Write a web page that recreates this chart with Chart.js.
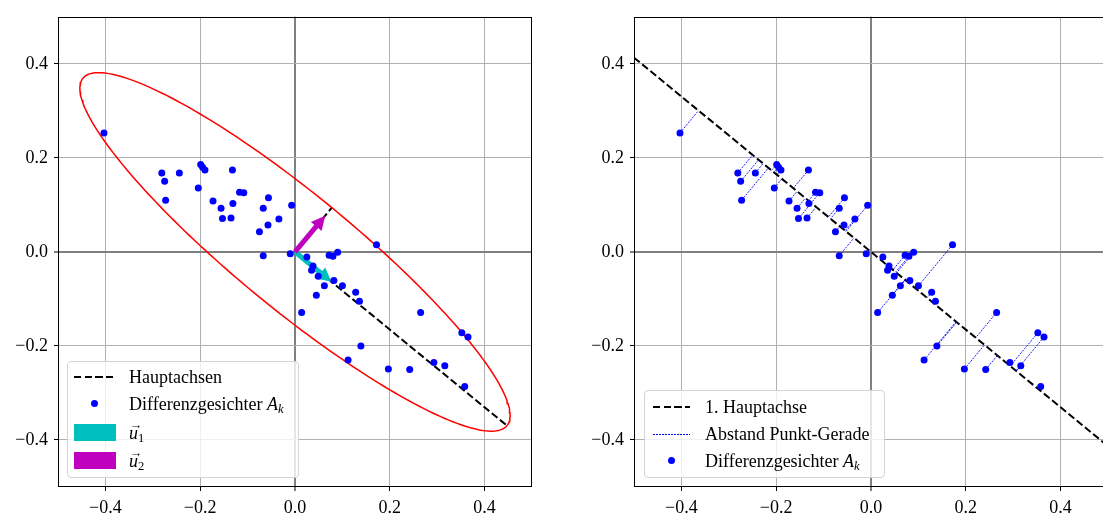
<!DOCTYPE html>
<html>
<head>
<meta charset="utf-8">
<script src="https://cdn.jsdelivr.net/npm/chart.js@4.4.0/dist/chart.umd.min.js"></script>
<style>
html, body { margin: 0; padding: 0; background: #fff; }
body { width: 1103px; height: 516px; overflow: hidden; position: relative; font-family: "Liberation Serif", serif; }
.panel { position: absolute; top: 0; width: 560px; height: 516px; }
.legend { position: absolute; background: rgba(255,255,255,0.8); border: 1px solid #d4d4d4; border-radius: 4px; box-sizing: border-box; font-size: 18px; color: #000; }
.row { position: absolute; left: 0; right: 0; height: 20px; line-height: 20px; white-space: nowrap; }
.row .txt { position: absolute; top: 0; }
.handle { position: absolute; }
.dash { height: 2px; top: 9px; background: repeating-linear-gradient(to right, #000 0 7.4px, transparent 7.4px 10.6px); }
.dots { height: 1px; top: 10px; background: repeating-linear-gradient(to right, #0000ff 0 1.8px, transparent 1.8px 3px); }
.dot { width: 7px; height: 7px; top: 6px; border-radius: 50%; background: #0000ff; }
.vec { position: relative; font-style: italic; }
.vec::before { content: "\2192"; position: absolute; left: 0.05em; top: -0.62em; font-size: 0.7em; font-style: normal; }
sub { font-size: 0.7em; vertical-align: -0.25em; line-height: 0; }
</style>
</head>
<body>
<div class="panel" style="left:0"><canvas id="left" width="560" height="516"></canvas></div>
<div class="panel" style="left:576px"><canvas id="right" width="560" height="516"></canvas></div>

<div class="legend" style="left:67px; top:361px; width:232px; height:117px;">
  <div class="row" style="top:5px"><div class="handle dash" style="left:6px; width:40px"></div><span class="txt" style="left:61px">Hauptachsen</span></div>
  <div class="row" style="top:32px"><div class="handle dot" style="left:23px"></div><span class="txt" style="left:61px">Differenzgesichter <i>A</i><sub><i>k</i></sub></span></div>
  <div class="row" style="top:61px"><div class="handle" style="left:6px; width:42px; top:1px; height:17px; background:#00bfbf"></div><span class="txt" style="left:61px"><span class="vec">u</span><sub>1</sub></span></div>
  <div class="row" style="top:89px"><div class="handle" style="left:6px; width:42px; top:1px; height:17px; background:#bf00bf"></div><span class="txt" style="left:61px"><span class="vec">u</span><sub>2</sub></span></div>
</div>

<div class="legend" style="left:644px; top:390px; width:241px; height:88px;">
  <div class="row" style="top:6px"><div class="handle dash" style="left:8px; width:37px"></div><span class="txt" style="left:60px">1. Hauptachse</span></div>
  <div class="row" style="top:33px"><div class="handle dots" style="left:8px; width:37px"></div><span class="txt" style="left:60px">Abstand Punkt-Gerade</span></div>
  <div class="row" style="top:60px"><div class="handle dot" style="left:23px"></div><span class="txt" style="left:60px">Differenzgesichter <i>A</i><sub><i>k</i></sub></span></div>
</div>

<script>
const tickValues = [-0.4, -0.2, 0, 0.2, 0.4];

const pointsX = [-0.403, -0.281, -0.244, -0.275, -0.273, -0.199, -0.195, -0.190, -0.132, -0.204,
                 -0.117, -0.108, -0.173, -0.131, -0.156, -0.153, -0.135, -0.056, -0.067, -0.007,
                 -0.034, -0.057, -0.075, -0.067, -0.010, 0.025, 0.072, 0.080, 0.090, 0.172,
                 0.038, 0.035, 0.049, 0.082, 0.062, 0.100, 0.045, 0.128, 0.136, 0.014,
                 0.265, 0.352, 0.365, 0.139, 0.112, 0.197, 0.242, 0.293, 0.316, 0.358];
const pointsY = [0.253, 0.168, 0.168, 0.150, 0.110, 0.186, 0.180, 0.174, 0.174, 0.136,
                 0.127, 0.126, 0.108, 0.103, 0.093, 0.071, 0.072, 0.115, 0.093, 0.099,
                 0.070, 0.057, 0.043, -0.008, -0.004, -0.011, -0.007, -0.009, -0.001, 0.015,
                 -0.030, -0.039, -0.052, -0.061, -0.072, -0.072, -0.092, -0.086, -0.105, -0.129,
                 -0.129, -0.172, -0.181, -0.200, -0.230, -0.249, -0.250, -0.235, -0.242, -0.286];

// principal directions, ellipse half axes and arrow length
const u1 = [0.771, -0.637];
const u2 = [0.637, 0.771];
const semiAxes = [0.58, 0.122];
const arrowLength = 0.1;

const points = pointsX.map((x, i) => ({ x: x, y: pointsY[i] }));

function axis(which) {
    return {
        type: 'linear',
        min: -0.5,
        max: 0.5,
        position: which === 'x' ? 'bottom' : 'left',
        afterBuildTicks: s => { s.ticks = tickValues.map(v => ({ value: v })); },
        afterFit: s => { if (which === 'x') s.height = 29; else s.width = 58; },
        border: { display: false },
        grid: {
            color: c => (c.tick && c.tick.value === 0) ? '#808080' : '#b0b0b0',
            lineWidth: c => (c.tick && c.tick.value === 0) ? 2 : 1,
            tickColor: '#000',
            tickWidth: 1,
            tickLength: 4,
            drawTicks: true
        },
        ticks: {
            color: '#000',
            padding: which === 'x' ? 6 : 6,
            autoSkip: false,
            maxRotation: 0,
            font: { family: 'Liberation Serif', size: 18 },
            callback: v => (v < 0 ? '\u2212' : '') + Math.abs(v).toFixed(1)
        }
    };
}

function baseOptions() {
    return {
        responsive: false,
        animation: false,
        events: [],
        layout: { padding: { top: 14, right: 28, left: 0, bottom: 0 } },
        plugins: { legend: { display: false }, tooltip: { enabled: false } },
        scales: { x: axis('x'), y: axis('y') }
    };
}

const framePlugin = {
    id: 'frame',
    afterDatasetsDraw(chart) {
        const a = chart.chartArea;
        const ctx = chart.ctx;
        ctx.save();
        ctx.strokeStyle = '#000';
        ctx.lineWidth = 1;
        ctx.strokeRect(Math.round(a.left) + 0.5, Math.round(a.top) + 0.5,
            Math.round(a.right - a.left) - 1, Math.round(a.bottom - a.top) - 1);
        ctx.restore();
    }
};

function drawArrow(chart, vec, color) {
    const xs = chart.scales.x, ys = chart.scales.y, ctx = chart.ctx;
    const x0 = xs.getPixelForValue(0), y0 = ys.getPixelForValue(0);
    const x1 = xs.getPixelForValue(vec[0] * arrowLength), y1 = ys.getPixelForValue(vec[1] * arrowLength);
    const len = Math.hypot(x1 - x0, y1 - y0);
    const dx = (x1 - x0) / len, dy = (y1 - y0) / len;
    const nx = -dy, ny = dx;
    const headLen = 14, headW = 14, shaftW = 5;
    const bx = x1 - dx * headLen, by = y1 - dy * headLen;
    ctx.save();
    ctx.fillStyle = color;
    ctx.beginPath();
    ctx.moveTo(x0 + nx * shaftW / 2, y0 + ny * shaftW / 2);
    ctx.lineTo(bx + nx * shaftW / 2, by + ny * shaftW / 2);
    ctx.lineTo(bx + nx * headW / 2, by + ny * headW / 2);
    ctx.lineTo(x1, y1);
    ctx.lineTo(bx - nx * headW / 2, by - ny * headW / 2);
    ctx.lineTo(bx - nx * shaftW / 2, by - ny * shaftW / 2);
    ctx.lineTo(x0 - nx * shaftW / 2, y0 - ny * shaftW / 2);
    ctx.closePath();
    ctx.fill();
    ctx.restore();
}

const arrowPlugin = {
    id: 'arrows',
    beforeDatasetDraw(chart, args) {
        if (args.index !== 0) return;
        drawArrow(chart, u1, '#00bfbf');
        drawArrow(chart, u2, '#bf00bf');
    }
};

// left: ellipse and both principal axes
const ellipse = [];
for (let i = 0; i <= 240; i++) {
    const t = i / 240 * 2 * Math.PI;
    const a = semiAxes[0] * Math.cos(t), b = semiAxes[1] * Math.sin(t);
    ellipse.push({ x: a * u1[0] + b * u2[0], y: a * u1[1] + b * u2[1] });
}

const pointSet = {
    data: points,
    showLine: false,
    pointRadius: 3.5,
    pointBackgroundColor: '#0000ff',
    pointBorderWidth: 0,
    order: 0
};

new Chart(document.getElementById('left'), {
    type: 'scatter',
    data: {
        datasets: [
            pointSet,
            {
                data: ellipse, showLine: true, pointRadius: 0,
                borderColor: '#ff0000', borderWidth: 1.5, order: 2
            },
            {
                data: [{ x: 0, y: 0 }, { x: semiAxes[0] * u1[0], y: semiAxes[0] * u1[1] }],
                showLine: true, pointRadius: 0, borderColor: '#000', borderWidth: 2,
                borderDash: [7.4, 3.2], order: 3
            },
            {
                data: [{ x: 0, y: 0 }, { x: semiAxes[1] * u2[0], y: semiAxes[1] * u2[1] }],
                showLine: true, pointRadius: 0, borderColor: '#000', borderWidth: 2,
                borderDash: [7.4, 3.2], order: 3
            }
        ]
    },
    options: baseOptions(),
    plugins: [arrowPlugin, framePlugin]
});

// right: first axis and the distance of every point to it
const projections = [];
points.forEach(p => {
    const t = p.x * u1[0] + p.y * u1[1];
    projections.push({ x: p.x, y: p.y });
    projections.push({ x: t * u1[0], y: t * u1[1] });
    projections.push({ x: null, y: null });
});
const tEnd = 0.5 / u1[0];

new Chart(document.getElementById('right'), {
    type: 'scatter',
    data: {
        datasets: [
            Object.assign({}, pointSet, { data: points }),
            {
                data: projections, showLine: true, spanGaps: false, pointRadius: 0,
                borderColor: '#0000ff', borderWidth: 0.9, borderDash: [2, 1.2], order: 1
            },
            {
                data: [{ x: -tEnd * u1[0], y: -tEnd * u1[1] }, { x: tEnd * u1[0], y: tEnd * u1[1] }],
                showLine: true, pointRadius: 0, borderColor: '#000', borderWidth: 2,
                borderDash: [7.4, 3.2], order: 2
            }
        ]
    },
    options: baseOptions(),
    plugins: [framePlugin]
});
</script>
</body>
</html>
